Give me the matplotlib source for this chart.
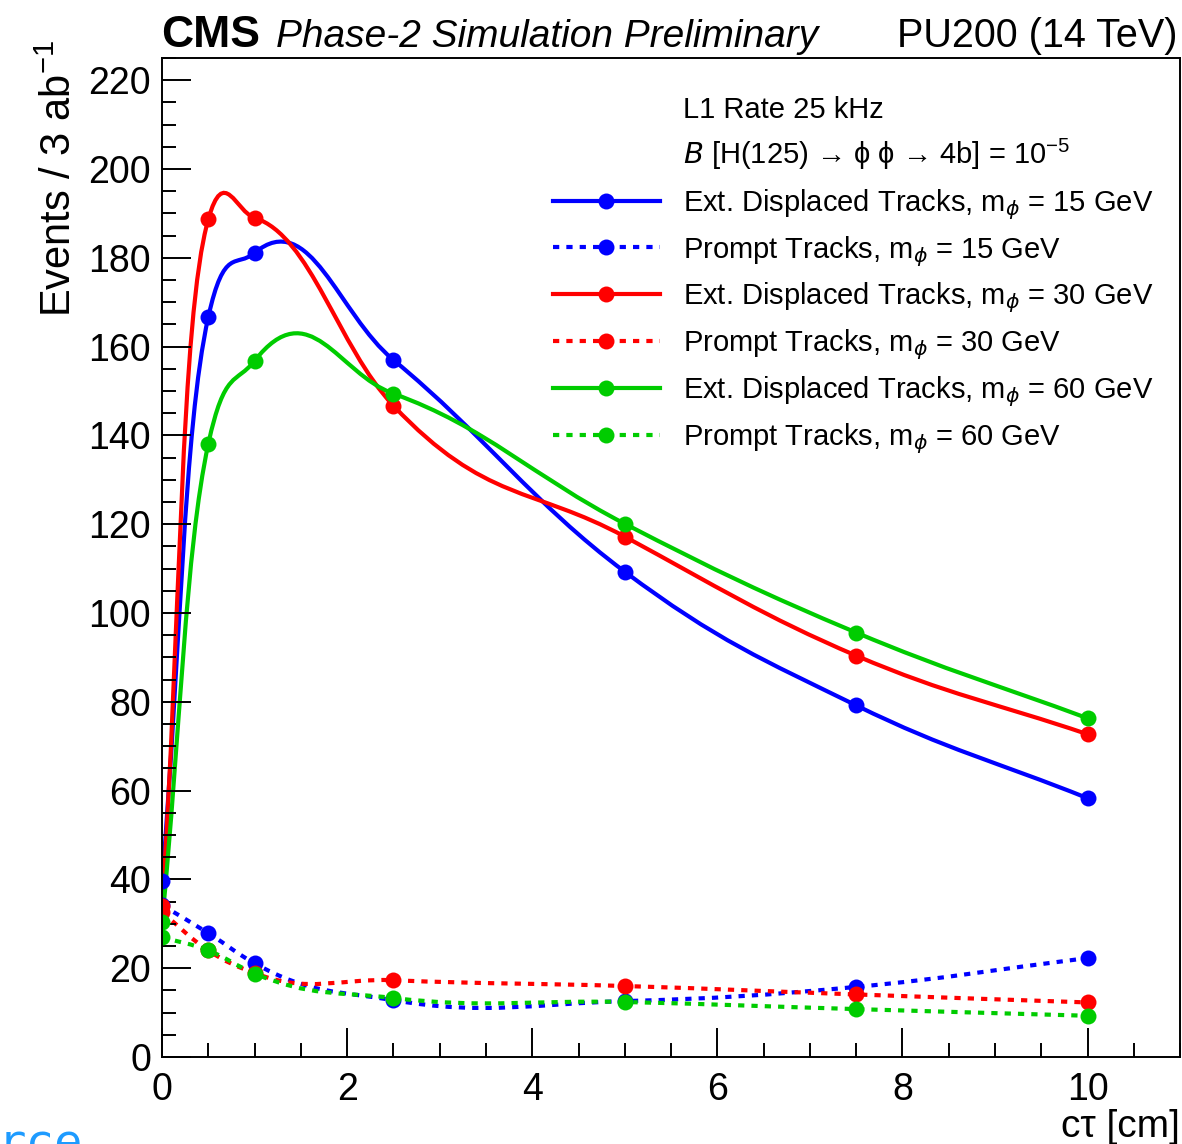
import numpy as np
import matplotlib
matplotlib.use('Agg')
import matplotlib.pyplot as plt
from matplotlib.path import Path
from matplotlib.patches import PathPatch
from matplotlib.lines import Line2D

plt.rcParams['font.family'] = ['Liberation Sans', 'DejaVu Sans']

# c*tau [cm]
ctau = [0, 0.5, 1, 2.5, 5, 7.5, 10]

# events / 3 ab^-1
ext_15 = [39.6, 166.7, 181.1, 157.0, 109.3, 79.2, 58.3]
prompt_15 = [34.2, 27.9, 21.1, 12.8, 12.6, 15.8, 22.3]
ext_30 = [34.0, 188.7, 189.0, 146.7, 117.2, 90.4, 72.7]
prompt_30 = [32.6, 24.0, 18.9, 17.3, 16.0, 14.1, 12.3]
ext_60 = [30.4, 138.1, 156.8, 149.4, 120.1, 95.6, 76.3]
prompt_60 = [27.0, 24.0, 18.8, 13.3, 12.4, 10.8, 9.3]

header = ['L1 Rate 25 kHz',
          '$\\it{B}$ [H(125) \u2192 \u03d5 \u03d5 \u2192 4b] = 10$^{\\mathregular{-5}}$']
labels = ['Ext. Displaced Tracks, m$_{\\phi}$ = 15 GeV',
          'Prompt Tracks, m$_{\\phi}$ = 15 GeV',
          'Ext. Displaced Tracks, m$_{\\phi}$ = 30 GeV',
          'Prompt Tracks, m$_{\\phi}$ = 30 GeV',
          'Ext. Displaced Tracks, m$_{\\phi}$ = 60 GeV',
          'Prompt Tracks, m$_{\\phi}$ = 60 GeV']

BLUE = '#0000ff'
RED = '#ff0000'
GREEN = '#00cc00'
DOT = (0, (1.5, 1.7))


# smooth curve through the points, roughly like ROOT's "C" draw option
def smooth_path(ax, xs, ys, sy=0.1, k=1.2):
    pts = ax.transData.transform(np.column_stack([xs, ys]))
    pts[:, 1] *= sy
    p = np.vstack([2 * pts[0] - pts[1], pts, 2 * pts[-1] - pts[-2]])
    d = np.hypot(*np.diff(p, axis=0).T)
    u = np.diff(p, axis=0) / d[:, None]
    # tangent at every real point (chord weighted)
    tan = (d[1:, None] * u[:-1] + d[:-1, None] * u[1:]) / (d[:-1] + d[1:])[:, None]
    verts = [pts[0]]
    for i in range(len(pts) - 1):
        seg = d[i + 1] * k / 3
        verts += [pts[i] + tan[i] * seg, pts[i + 1] - tan[i + 1] * seg, pts[i + 1]]
    verts = np.array(verts)
    verts[:, 1] /= sy
    verts = ax.transData.inverted().transform(verts)
    codes = [Path.MOVETO] + [Path.CURVE4] * (len(verts) - 1)
    return Path(verts, codes)


fig = plt.figure(figsize=(11.82, 11.44), dpi=100)
ax = fig.add_axes([0.1371, 0.0760, 0.8613, 0.8733])
ax.set_xlim(0, 11)
ax.set_ylim(0, 225)

series = [(ext_15, BLUE, '-'), (prompt_15, BLUE, DOT),
          (ext_30, RED, '-'), (prompt_30, RED, DOT),
          (ext_60, GREEN, '-'), (prompt_60, GREEN, DOT)]

for vals, col, ls in series:
    ax.add_patch(PathPatch(smooth_path(ax, ctau, vals), fill=False, edgecolor=col,
                           lw=3, linestyle=ls, capstyle='butt'))
    ax.plot(ctau, vals, 'o', color=col, markersize=11.5, markeredgewidth=0)


# legend, laid out like the ROOT TLegend (pixel positions from top-left)
def px(x, y):
    return ax.transAxes.inverted().transform(fig.transFigure.transform((x / 1182, 1 - y / 1144)))


row0, step = 107, 46.8
for i, txt in enumerate(header + labels):
    ry = row0 + step * i
    tx, ty = px(683, ry + 10.5)
    ax.text(tx, ty, txt, transform=ax.transAxes, fontsize=21, va='baseline')
    if i >= 2:
        vals, col, ls = series[i - 2]
        (x0, y0), (x1, _), (xm, _) = px(553, ry), px(660, ry), px(606, ry)
        ax.add_line(Line2D([x0, x1], [y0, y0], transform=ax.transAxes, color=col,
                           lw=3, linestyle=ls, dash_capstyle='butt'))
        ax.add_line(Line2D([xm], [y0], transform=ax.transAxes, color=col, marker='o',
                           markersize=11.5, markeredgewidth=0))

ax.xaxis.set_major_locator(plt.MultipleLocator(2))
ax.xaxis.set_minor_locator(plt.MultipleLocator(0.5))
ax.yaxis.set_major_locator(plt.MultipleLocator(20))
ax.yaxis.set_minor_locator(plt.MultipleLocator(5))
ax.tick_params(which='both', direction='in', width=1.4, top=False, right=False)
ax.tick_params(which='major', length=21, labelsize=27)
ax.tick_params(which='minor', length=10)
ax.tick_params(axis='x', pad=11)
ax.tick_params(axis='y', pad=8)
for s in ax.spines.values():
    s.set_linewidth(1.4)

ax.set_ylabel('Events / 3 ab$^{\\mathregular{-1}}$', fontsize=30, loc='top')
ax.yaxis.set_label_coords(-0.081, 1.018)
ax.set_xlabel('c\u03c4 [cm]', fontsize=28, loc='right')
ax.xaxis.set_label_coords(1.0, -0.052)

fig.text(0.1362, 0.959, 'CMS', fontsize=32, fontweight='bold', va='baseline')
fig.text(0.2335, 0.959, 'Phase-2 Simulation Preliminary', fontsize=28, style='italic', va='baseline')
fig.text(0.9966, 0.959, 'PU200 (14 TeV)', fontsize=28.5, ha='right', va='baseline')

fig.text(-0.002, -0.012, 'rce', fontsize=34, color='#1e9bff', family='DejaVu Sans Mono', va='baseline')

fig.savefig('out.png', dpi=100)
